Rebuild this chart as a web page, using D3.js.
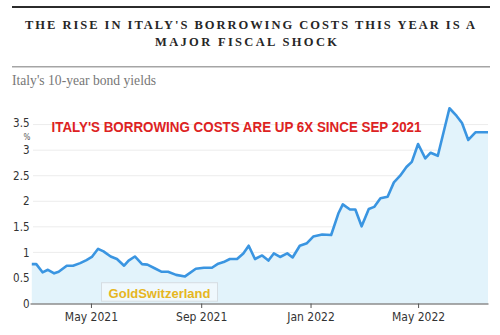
<!DOCTYPE html>
<html>
<head>
<meta charset="utf-8">
<script src="https://cdn.jsdelivr.net/npm/d3@7/dist/d3.min.js"></script>
<style>
  html, body { margin: 0; padding: 0; background: #fff; }
  svg { display: block; }
</style>
</head>
<body>
<svg id="chart" width="500" height="335"></svg>
<script>
// Italy 10-year government bond yield, %
const dates = [
  "2021-02-24","2021-03-01","2021-03-08","2021-03-14","2021-03-21","2021-03-26",
  "2021-04-04","2021-04-11","2021-04-19","2021-04-26","2021-05-02","2021-05-09",
  "2021-05-15","2021-05-23","2021-05-30","2021-06-07","2021-06-12","2021-06-19",
  "2021-06-27","2021-07-03","2021-07-11","2021-07-19","2021-07-26","2021-08-04",
  "2021-08-14","2021-08-26","2021-09-04","2021-09-13","2021-09-20","2021-09-26",
  "2021-10-03","2021-10-11","2021-10-18","2021-10-24","2021-10-31","2021-11-08",
  "2021-11-15","2021-11-21","2021-11-28","2021-12-06","2021-12-12","2021-12-20",
  "2021-12-28","2022-01-04","2022-01-14","2022-01-24","2022-02-01","2022-02-06",
  "2022-02-14","2022-02-20","2022-02-27","2022-03-07","2022-03-13","2022-03-20",
  "2022-03-28","2022-04-04","2022-04-11","2022-04-18","2022-04-24","2022-05-01",
  "2022-05-09","2022-05-15","2022-05-23","2022-06-05","2022-06-13","2022-06-19",
  "2022-06-26","2022-07-04","2022-07-18"
];
const yields = [
  0.77, 0.77, 0.61, 0.66, 0.59, 0.62,
  0.74, 0.74, 0.79, 0.85, 0.91, 1.07,
  1.02, 0.92, 0.87, 0.74, 0.84, 0.92,
  0.77, 0.76, 0.69, 0.62, 0.62, 0.56,
  0.53, 0.68, 0.70, 0.70, 0.78, 0.81,
  0.87, 0.87, 0.98, 1.13, 0.87, 0.94,
  0.84, 0.98, 0.91, 0.98, 0.90, 1.13,
  1.18, 1.31, 1.35, 1.34, 1.76, 1.94,
  1.84, 1.84, 1.51, 1.85, 1.89, 2.06,
  2.09, 2.37, 2.50, 2.67, 2.77, 3.12,
  2.84, 2.95, 2.89, 3.82, 3.67, 3.53,
  3.20, 3.35, 3.35
];
const yTicks = [0, 0.5, 1, 1.5, 2, 2.5, 3, 3.5];
const xTickDates = ["2021-05-01", "2021-09-01", "2022-01-01", "2022-05-01"];
const xTickLabels = ["May 2021", "Sep 2021", "Jan 2022", "May 2022"];

const titleLines = ["THE RISE IN ITALY'S BORROWING COSTS THIS YEAR IS A", "MAJOR FISCAL SHOCK"];
const subtitle = "Italy's 10-year bond yields";
const annotation = "ITALY'S BORROWING COSTS ARE UP 6X SINCE SEP 2021";
const watermark = "GoldSwitzerland";

const parse = d3.utcParse("%Y-%m-%d");
const series = dates.map((d, i) => ({ date: parse(d), value: yields[i] }));

const svg = d3.select("#chart");
const condensed = "'Liberation Sans Narrow', 'DejaVu Sans Condensed', 'Roboto', sans-serif";
const serif = "'Liberation Serif', 'DejaVu Serif', serif";

const plot = { left: 30, right: 488, bottom: 303.5 };

const x = d3.scaleUtc()
  .domain([parse("2021-02-22"), parse("2022-07-18")])
  .range([plot.left, plot.right]);
const y = d3.scaleLinear()
  .domain([0, 3.5])
  .range([plot.bottom, 124.6]);

// header rules and titles
svg.append("line").attr("x1", 12).attr("x2", 490).attr("y1", 7).attr("y2", 7)
  .attr("stroke", "#2b2b2b").attr("stroke-width", 2.2);
svg.append("line").attr("x1", 12).attr("x2", 490).attr("y1", 66.7).attr("y2", 66.7)
  .attr("stroke", "#a5a5a5").attr("stroke-width", 1.5);

svg.append("text").attr("x", 250).attr("y", 28.5)
  .attr("text-anchor", "middle")
  .attr("textLength", 450).attr("lengthAdjust", "spacing")
  .style("font-family", serif).style("font-weight", "bold").style("font-size", "12.5px")
  .attr("fill", "#262626").text(titleLines[0]);
svg.append("text").attr("x", 246).attr("y", 46)
  .attr("text-anchor", "middle")
  .attr("textLength", 182).attr("lengthAdjust", "spacing")
  .style("font-family", serif).style("font-weight", "bold").style("font-size", "12.5px")
  .attr("fill", "#262626").text(titleLines[1]);

svg.append("text").attr("x", 12).attr("y", 85)
  .style("font-family", serif).style("font-size", "13.6px")
  .attr("fill", "#777").text(subtitle);

// horizontal grid
svg.append("g").selectAll("line")
  .data(yTicks.filter(t => t > 0))
  .join("line")
  .attr("x1", 33).attr("x2", plot.right)
  .attr("y1", d => y(d)).attr("y2", d => y(d))
  .attr("stroke", "#ececec").attr("stroke-width", 1);

// area + line
const area = d3.area()
  .x(d => x(d.date)).y0(y(0)).y1(d => y(d.value));
const line = d3.line()
  .x(d => x(d.date)).y(d => y(d.value));

svg.append("path").datum(series).attr("d", area).attr("fill", "#e2f3fb");
svg.append("path").datum(series).attr("d", line)
  .attr("fill", "none").attr("stroke", "#3a95e1").attr("stroke-width", 2.6)
  .attr("stroke-linejoin", "round");

// y axis labels
const yAxis = d3.axisLeft(y).tickValues(yTicks).tickSize(0).tickPadding(0)
  .tickFormat(d3.format("~g"));
const gy = svg.append("g").attr("transform", "translate(29.5,0)").call(yAxis);
gy.select(".domain").remove();
gy.selectAll("text")
  .style("font-family", condensed).style("font-size", "11.5px").attr("fill", "#333");
gy.selectAll(".tick").filter(d => d === 3.5).select("text").attr("dy", "0.2em");
svg.append("text").attr("x", 27).attr("y", 139.5).attr("text-anchor", "middle")
  .style("font-family", condensed).style("font-size", "8px").attr("fill", "#555").text("%");

// x axis
const xAxis = d3.axisBottom(x)
  .tickValues(xTickDates.map(parse))
  .tickFormat((d, i) => xTickLabels[i])
  .tickSize(4.5).tickSizeOuter(0).tickPadding(4);
const gx = svg.append("g").attr("transform", `translate(0,${plot.bottom})`).call(xAxis);
gx.select(".domain").attr("stroke", "#555").attr("stroke-width", 1.2);
gx.selectAll(".tick line").attr("stroke", "#555");
gx.selectAll("text")
  .style("font-family", condensed).style("font-size", "12px").attr("fill", "#333");

// headline annotation
svg.append("text").attr("x", 51.5).attr("y", 131.7)
  .attr("textLength", 370).attr("lengthAdjust", "spacingAndGlyphs")
  .style("font-family", "'Liberation Sans', Arial, sans-serif").style("font-weight", "bold")
  .style("font-size", "14px").attr("fill", "#dd2222").text(annotation);

// watermark
svg.append("rect").attr("x", 101.5).attr("y", 282.7).attr("width", 116).attr("height", 18.5)
  .attr("fill", "#ffffff").attr("fill-opacity", 0.45)
  .attr("stroke", "#d6dde2").attr("stroke-width", 1);
svg.append("text").attr("x", 159.5).attr("y", 297.5).attr("text-anchor", "middle")
  .style("font-family", "'Liberation Sans', Arial, sans-serif").style("font-weight", "bold")
  .style("font-size", "13px").attr("fill", "#e6b622").text(watermark);
</script>
</body>
</html>
